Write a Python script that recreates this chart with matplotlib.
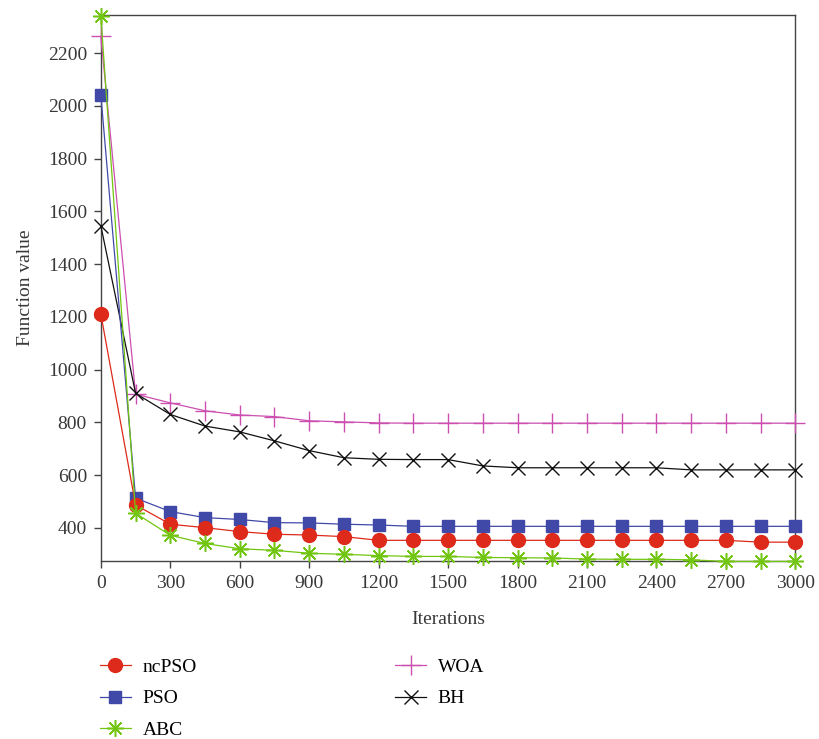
import numpy as np
import matplotlib.pyplot as plt
from matplotlib.ticker import FixedLocator

plt.rcParams['font.family'] = ['Liberation Serif', 'DejaVu Serif']

iterations = np.arange(0, 3001, 150)

# values
ncpso = [1210, 487, 414, 401, 386, 376, 373, 367, 353, 353, 353, 353, 353, 353,
         353, 353, 353, 353, 353, 346, 346]
pso = [2040, 513, 462, 439, 432, 420, 419, 414, 411, 406, 406, 406, 406, 406,
       406, 406, 406, 406, 406, 406, 406]
abc = [2340, 456, 372, 341, 321, 315, 304, 300, 295, 292, 292, 288, 287, 286,
       282, 281, 281, 279, 273, 273, 273]
woa = [2263, 907, 874, 844, 828, 822, 806, 802, 798, 797, 797, 797, 797, 797,
       797, 797, 797, 797, 797, 797, 797]
bh = [1545, 910, 830, 786, 764, 730, 693, 666, 660, 659, 659, 635, 628, 628,
      628, 628, 628, 620, 620, 620, 620]

names = ['ncPSO', 'PSO', 'ABC', 'WOA', 'BH']

fig = plt.figure(figsize=(8.2, 7.39), dpi=100)
ax = fig.add_axes([0.123, 0.241, 0.847, 0.739])

ax.plot(iterations, ncpso, color='#dd2a1b', lw=0.9, marker='o', markersize=10,
        label=names[0], clip_on=False, zorder=5)
ax.plot(iterations, pso, color='#4149a8', lw=0.9, marker='s', markersize=8.5,
        label=names[1], clip_on=False, zorder=4)
ax.plot(iterations, abc, color='#72c510', lw=0.9, marker=(8, 2, 0), markersize=12,
        markeredgewidth=1.1, label=names[2], clip_on=False, zorder=6)
ax.plot(iterations, woa, color='#cc4fb0', lw=0.9, marker='+', markersize=14,
        markeredgewidth=1.0, label=names[3], clip_on=False, zorder=3)
ax.plot(iterations, bh, color='#111111', lw=0.9, marker='x', markersize=10,
        markeredgewidth=1.0, label=names[4], clip_on=False, zorder=3)

ax.set_xlim(0, 3000)
ax.set_ylim(275, 2345)
ax.xaxis.set_major_locator(FixedLocator(np.arange(0, 3001, 300)))
ax.yaxis.set_major_locator(FixedLocator(np.arange(400, 2201, 200)))

for s in ax.spines.values():
    s.set_color('#444444')
    s.set_linewidth(1.0)
ax.tick_params(direction='out', length=5, width=1.0, color='#444444',
               labelsize=14, labelcolor='#383838', pad=5)

ax.set_xlabel('Iterations', fontsize=14, color='#383838', labelpad=13.5)
ax.set_ylabel('Function value', fontsize=14, color='#383838', labelpad=10)

fig.legend(loc='upper left', bbox_to_anchor=(0.112, 0.12), ncol=2,
           frameon=False, fontsize=14, handlelength=1.6, handletextpad=0.6,
           labelspacing=0.72, columnspacing=10.2, borderaxespad=0)

fig.savefig('out.png', dpi=100)
